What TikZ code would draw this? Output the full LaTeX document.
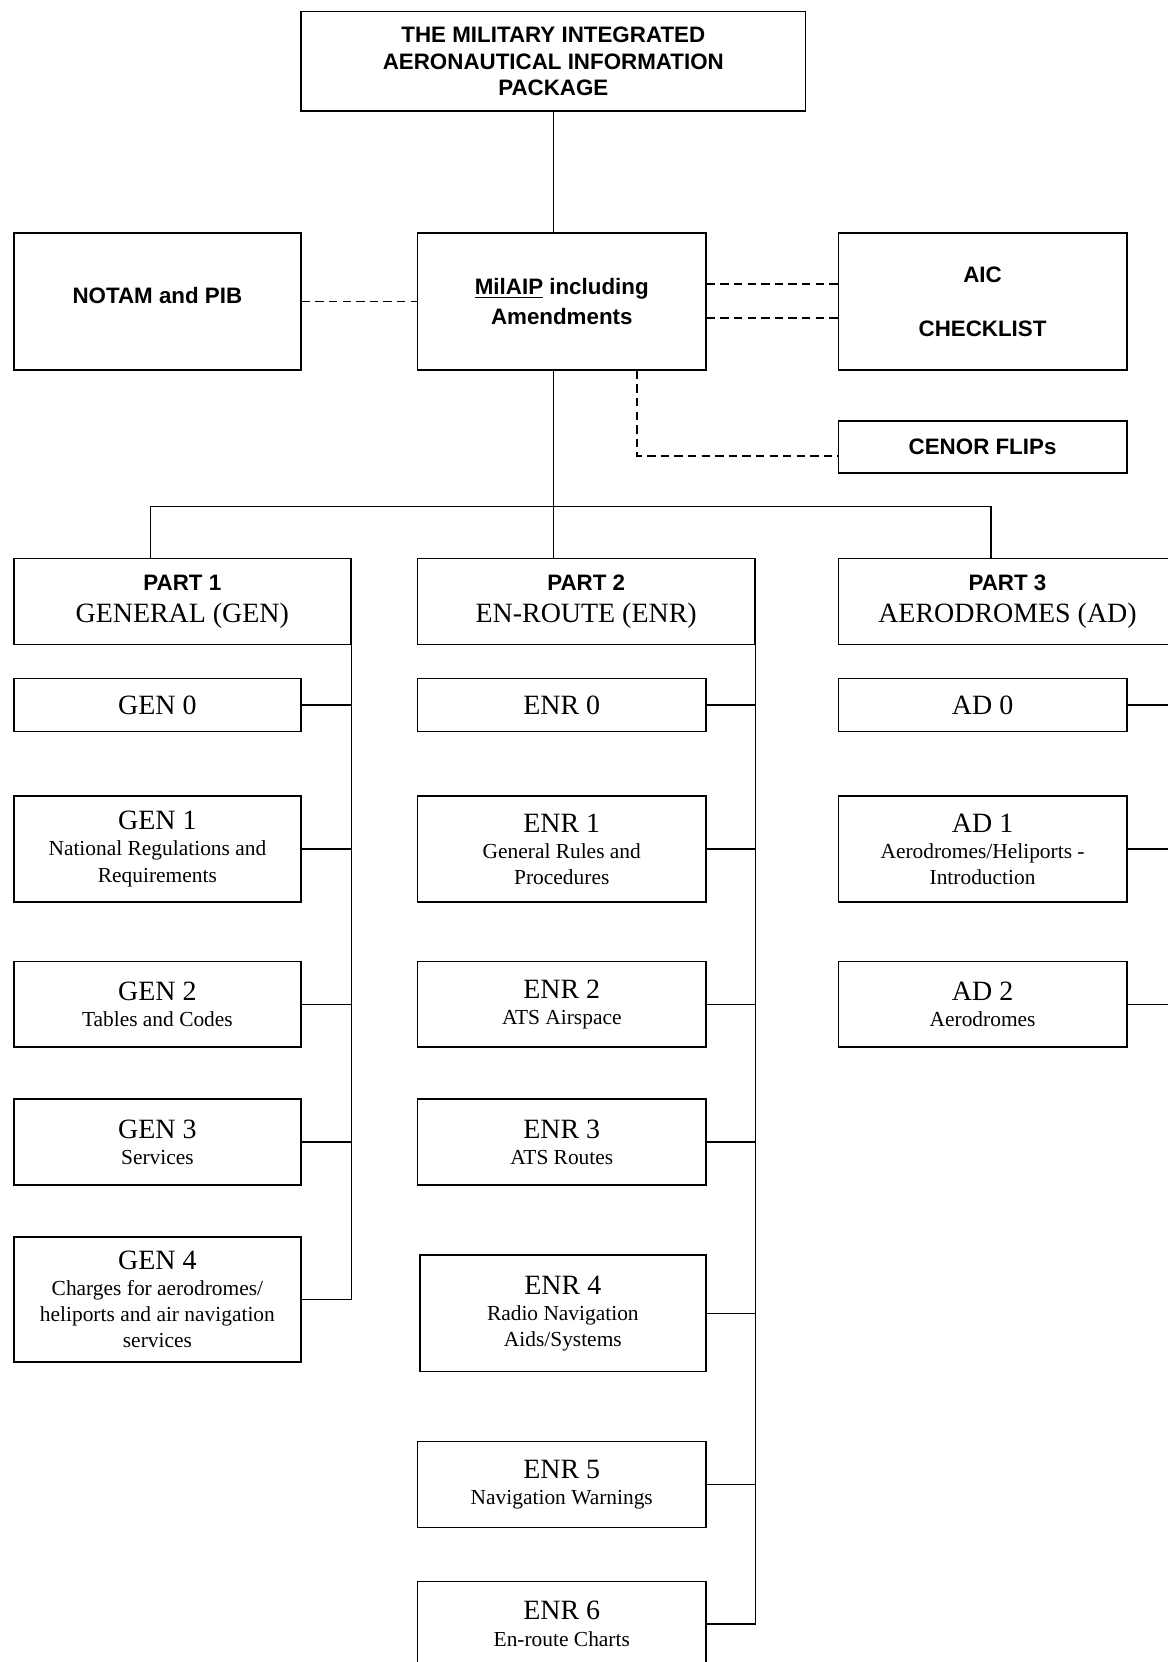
\documentclass[tikz,border=0pt]{standalone}
\usepackage{fontspec}
\setmainfont{Liberation Serif}
\setsansfont{Liberation Sans}
\newcommand{\hd}{\sffamily\bfseries\fontsize{12}{14.2}\selectfont}
\newcommand{\ttl}{\rmfamily\fontsize{15}{17}\selectfont}
\newcommand{\sub}{\rmfamily\fontsize{11.5}{14}\selectfont}
\tikzset{
	box/.style 2 args={draw=black, line width=0.9pt, inner sep=0pt, align=center,
		minimum width={#1*0.02cm}, minimum height={#2*0.02cm}},
	link/.style={draw=black, line width=0.8pt},
	dlink/.style={link, dash pattern=on 4.5pt off 2.8pt}
}
\begin{document}
\begin{tikzpicture}[x=0.02cm, y=-0.02cm]
		\useasboundingbox (0,0) rectangle (1101,1568);
		% top of the tree
		\node[box={476}{94}, font=\hd] (pkg) at (522,58) {THE MILITARY INTEGRATED\\AERONAUTICAL INFORMATION\\PACKAGE};
		\node[box={271}{129}, font=\hd] (notam) at (148.5,284.5) {\raisebox{0.24cm}{NOTAM and PIB}};
		\node[box={272}{129}, font=\hd] (milaip) at (530,284.5) {\underline{MilAIP} including\\[2pt]Amendments};
		\node[box={272}{129}, font=\hd] (aic) at (927,284.5) {AIC\\[15pt]CHECKLIST};
		\node[box={272}{49}, font=\hd] (cenor) at (927,421.5) {CENOR FLIPs};
		% parts
		\node[box={318}{81}, font=\ttl] (part1) at (172,567.5) {{\hd PART 1}\\GENERAL (GEN)};
		\node[box={318}{81}, font=\ttl] (part2) at (553,567.5) {{\hd PART 2}\\EN-ROUTE (ENR)};
		\node[box={319}{81}, font=\ttl] (part3) at (950.5,567.5) {{\hd PART 3}\\AERODROMES (AD)};
		% part 1
		\node[box={271}{50}, font=\ttl] (gen0) at (148.5,665) {GEN 0};
		\node[box={271}{100}, font=\sub] (gen1) at (148.5,801) {{\ttl GEN 1}\\National Regulations and\\Requirements};
		\node[box={271}{81}, font=\sub] (gen2) at (148.5,947.5) {{\ttl GEN 2}\\Tables and Codes};
		\node[box={271}{81}, font=\sub] (gen3) at (148.5,1077.5) {{\ttl GEN 3}\\Services};
		\node[box={271}{118}, font=\sub] (gen4) at (148.5,1226) {{\ttl GEN 4}\\Charges for aerodromes/\\heliports and air navigation\\services};
		% part 2
		\node[box={272}{50}, font=\ttl] (enr0) at (530,665) {ENR 0};
		\node[box={272}{100}, font=\sub] (enr1) at (530,801) {{\ttl ENR 1}\\General Rules and\\Procedures};
		\node[box={272}{81}, font=\sub] (enr2) at (530,947.5) {{\ttl ENR 2}\\ATS Airspace};
		\node[box={272}{81}, font=\sub] (enr3) at (530,1077.5) {{\ttl ENR 3}\\ATS Routes};
		\node[box={270}{110}, font=\sub] (enr4) at (531,1239) {{\ttl ENR 4}\\Radio Navigation\\Aids/Systems};
		\node[box={272}{81}, font=\sub] (enr5) at (530,1400.5) {{\ttl ENR 5}\\Navigation Warnings};
		\node[box={272}{80}, font=\sub] (enr6) at (530,1532) {{\ttl ENR 6}\\En-route Charts};
		% part 3
		\node[box={272}{50}, font=\ttl] (ad0) at (927,665) {AD 0};
		\node[box={272}{100}, font=\sub] (ad1) at (927,801) {{\ttl AD 1}\\Aerodromes/Heliports -\\Introduction};
		\node[box={272}{81}, font=\sub] (ad2) at (927,947.5) {{\ttl AD 2}\\Aerodromes};
		% connectors
		\draw[link] (pkg.south) -- (pkg.south |- milaip.north);
		\draw[dlink] (notam.east) -- (milaip.west);
		\draw[dlink] ([yshift=0.33cm]milaip.east) -- ([yshift=0.33cm]aic.west);
		\draw[dlink] ([yshift=-0.31cm]milaip.east) -- ([yshift=-0.31cm]aic.west);
		\draw[dlink] ([xshift=1.42cm]milaip.south) |- ([yshift=-0.17cm]cenor.west);
		\coordinate (bus) at (522,478);
		\draw[link] (pkg.south |- milaip.south) -- (bus);
		\draw[link] ([xshift=-0.6cm]part1.north) |- (bus) -| ([xshift=-0.31cm]part3.north);
		\draw[link] (bus) -- (bus |- part2.north);
		\draw[link] (part1.south east) -- (part1.south east |- gen4.east);
		\draw[link] (part2.south east) -- (part2.south east |- enr6.east);
		\draw[link] (part3.south east) -- (part3.south east |- ad2.east);
		\foreach \n in {gen0,gen1,gen2,gen3,gen4}
			\draw[link] (\n.east) -- (\n.east -| part1.east);
		\foreach \n in {enr0,enr1,enr2,enr3,enr4,enr5,enr6}
			\draw[link] (\n.east) -- (\n.east -| part2.east);
		\foreach \n in {ad0,ad1,ad2}
			\draw[link] (\n.east) -- (\n.east -| part3.east);
	\end{tikzpicture}
\end{document}
